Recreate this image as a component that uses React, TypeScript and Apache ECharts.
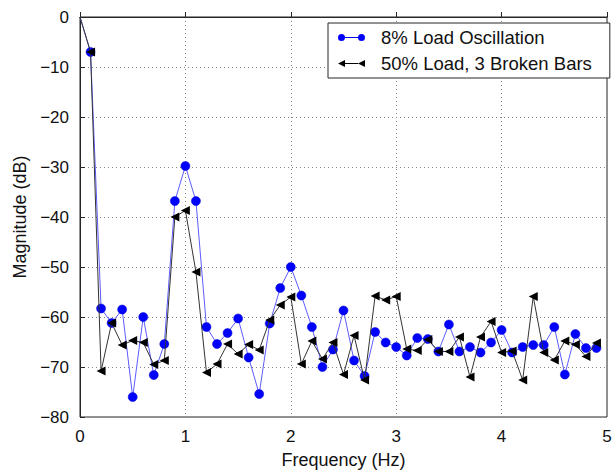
import React, { useEffect, useRef } from "react";
import * as echarts from "echarts";

const freqs = [
  0, 0.1, 0.2, 0.3, 0.4, 0.5, 0.6, 0.7, 0.8, 0.9,
  1.0, 1.1, 1.2, 1.3, 1.4, 1.5, 1.6, 1.7, 1.8, 1.9,
  2.0, 2.1, 2.2, 2.3, 2.4, 2.5, 2.6, 2.7, 2.8, 2.9,
  3.0, 3.1, 3.2, 3.3, 3.4, 3.5, 3.6, 3.7, 3.8, 3.9,
  4.0, 4.1, 4.2, 4.3, 4.4, 4.5, 4.6, 4.7, 4.8, 4.9,
];

const loadOsc = [
  0, -7, -58.3, -61.2, -58.5, -76.0, -60, -71.6, -65.4, -36.8,
  -29.8, -36.8, -62, -65.4, -63.2, -60.3, -68.1, -75.4, -61.3, -54.2,
  -50, -55.7, -62, -70, -66.5, -58.7, -68.7, -71.8, -63, -65.1,
  -66, -67.7, -64.2, -64.4, -66.9, -61.5, -66.9, -66, -67.1, -65.1,
  -62.6, -67.1, -66, -65.6, -65.6, -62, -71.5, -63.4, -66.2, -66.2,
];

const brokenBars = [
  0, -7, -70.8, -61.2, -65.6, -64.7, -65.1, -69.5, -68.7, -40,
  -38.7, -51, -71.1, -69.4, -65.4, -67.4, -65.5, -66.6, -60.6, -57.6,
  -56, -69.4, -64.8, -68.4, -65.1, -71.5, -63.7, -72.6, -55.8, -56.6,
  -55.9, -66.4, -66.7, -64.5, -66.9, -66.9, -64, -72, -64, -60.9,
  -67.1, -66.8, -72.6, -55.9, -67.1, -68.6, -64.8, -65.5, -67.9, -65.2,
];

const seriesNames = ["8% Load Oscillation", "50% Load, 3 Broken Bars"];

const FONT = "'Liberation Sans', Arial, Helvetica, sans-serif";
const TRI_LEFT = "path://M0,5L10,0L10,10Z";
const ICON_BLUE =
  "path://M0,3.5a3.5,3.5 0 1,0 7,0a3.5,3.5 0 1,0 -7,0zM7,3.1h13v0.8h-13zM20,3.5a3.5,3.5 0 1,0 7,0a3.5,3.5 0 1,0 -7,0z";
const ICON_BLACK =
  "path://M0,3.5L7,0L7,7zM7,3.1h13v0.8h-13zM20,3.5L27,0L27,7z";

const fmtMinus = (v: number) => (v < 0 ? "\u2212" + Math.abs(v) : String(v));

export default function App() {
  const ref = useRef<HTMLDivElement>(null);

  useEffect(() => {
    document.body.style.margin = "0";
    if (!ref.current) return;
    const chart = echarts.init(ref.current, null, { renderer: "svg" });

    const mk = (vals: number[]) =>
      freqs.map((f, i) =>
        i === 0 ? { value: [f, vals[i]], symbol: "none" } : { value: [f, vals[i]] }
      );

    const splitLine = {
      show: true,
      lineStyle: { type: [1, 3] as any, color: "#858585", width: 1 },
    };

    chart.setOption({
      animation: false,
      backgroundColor: "#ffffff",
      grid: {
        left: 80,
        top: 17,
        right: 9,
        bottom: 51,
        show: true,
        borderColor: "#262626",
        borderWidth: 1,
        containLabel: false,
      },
      xAxis: {
        type: "value",
        min: 0,
        max: 5,
        interval: 1,
        name: "Frequency (Hz)",
        nameLocation: "middle",
        nameGap: 34,
        nameTextStyle: { fontFamily: FONT, fontSize: 18, color: "#111" },
        axisLine: { show: true, lineStyle: { color: "#262626", width: 1 } },
        axisTick: { show: true, inside: true, length: 5, lineStyle: { color: "#262626" } },
        axisLabel: { fontFamily: FONT, fontSize: 17, color: "#111", margin: 11 },
        splitLine,
      },
      yAxis: {
        type: "value",
        min: -80,
        max: 0,
        interval: 10,
        name: "Magnitude (dB)",
        nameLocation: "middle",
        nameGap: 51,
        nameTextStyle: { fontFamily: FONT, fontSize: 18, color: "#111" },
        axisLine: { show: true, lineStyle: { color: "#262626", width: 1 } },
        axisTick: { show: true, inside: true, length: 5, lineStyle: { color: "#262626" } },
        axisLabel: {
          fontFamily: FONT,
          fontSize: 17,
          color: "#111",
          margin: 11,
          formatter: fmtMinus,
        },
        splitLine,
      },
      legend: {
        orient: "vertical",
        left: 328,
        top: 23,
        padding: [5, 18, 5, 10],
        itemGap: 7,
        itemWidth: 27,
        itemHeight: 7,
        backgroundColor: "#ffffff",
        borderColor: "#262626",
        borderWidth: 1,
        borderRadius: 0,
        textStyle: {
          fontFamily: FONT,
          fontSize: 18.5,
          color: "#111",
          padding: [0, 0, 0, 11],
        },
        data: [
          { name: seriesNames[0], icon: ICON_BLUE, itemStyle: { color: "#0000ff", borderWidth: 0 } },
          { name: seriesNames[1], icon: ICON_BLACK, itemStyle: { color: "#000000", borderWidth: 0 } },
        ],
      },
      series: [
        {
          name: seriesNames[0],
          type: "line",
          data: mk(loadOsc),
          symbol: "circle",
          symbolSize: 9,
          showAllSymbol: true,
          itemStyle: { color: "#0000ff", borderColor: "#0000d0", borderWidth: 0.5 },
          lineStyle: { color: "#5c5cff", width: 1 },
          z: 2,
        },
        {
          name: seriesNames[1],
          type: "line",
          data: mk(brokenBars),
          symbol: TRI_LEFT,
          symbolSize: 9,
          showAllSymbol: true,
          itemStyle: { color: "#000000", borderWidth: 0 },
          lineStyle: { color: "#333333", width: 1 },
          z: 3,
        },
      ],
    });

    return () => chart.dispose();
  }, []);

  return (
    <div
      ref={ref}
      style={{ position: "fixed", left: 0, top: 0, width: 616, height: 474 }}
    />
  );
}
